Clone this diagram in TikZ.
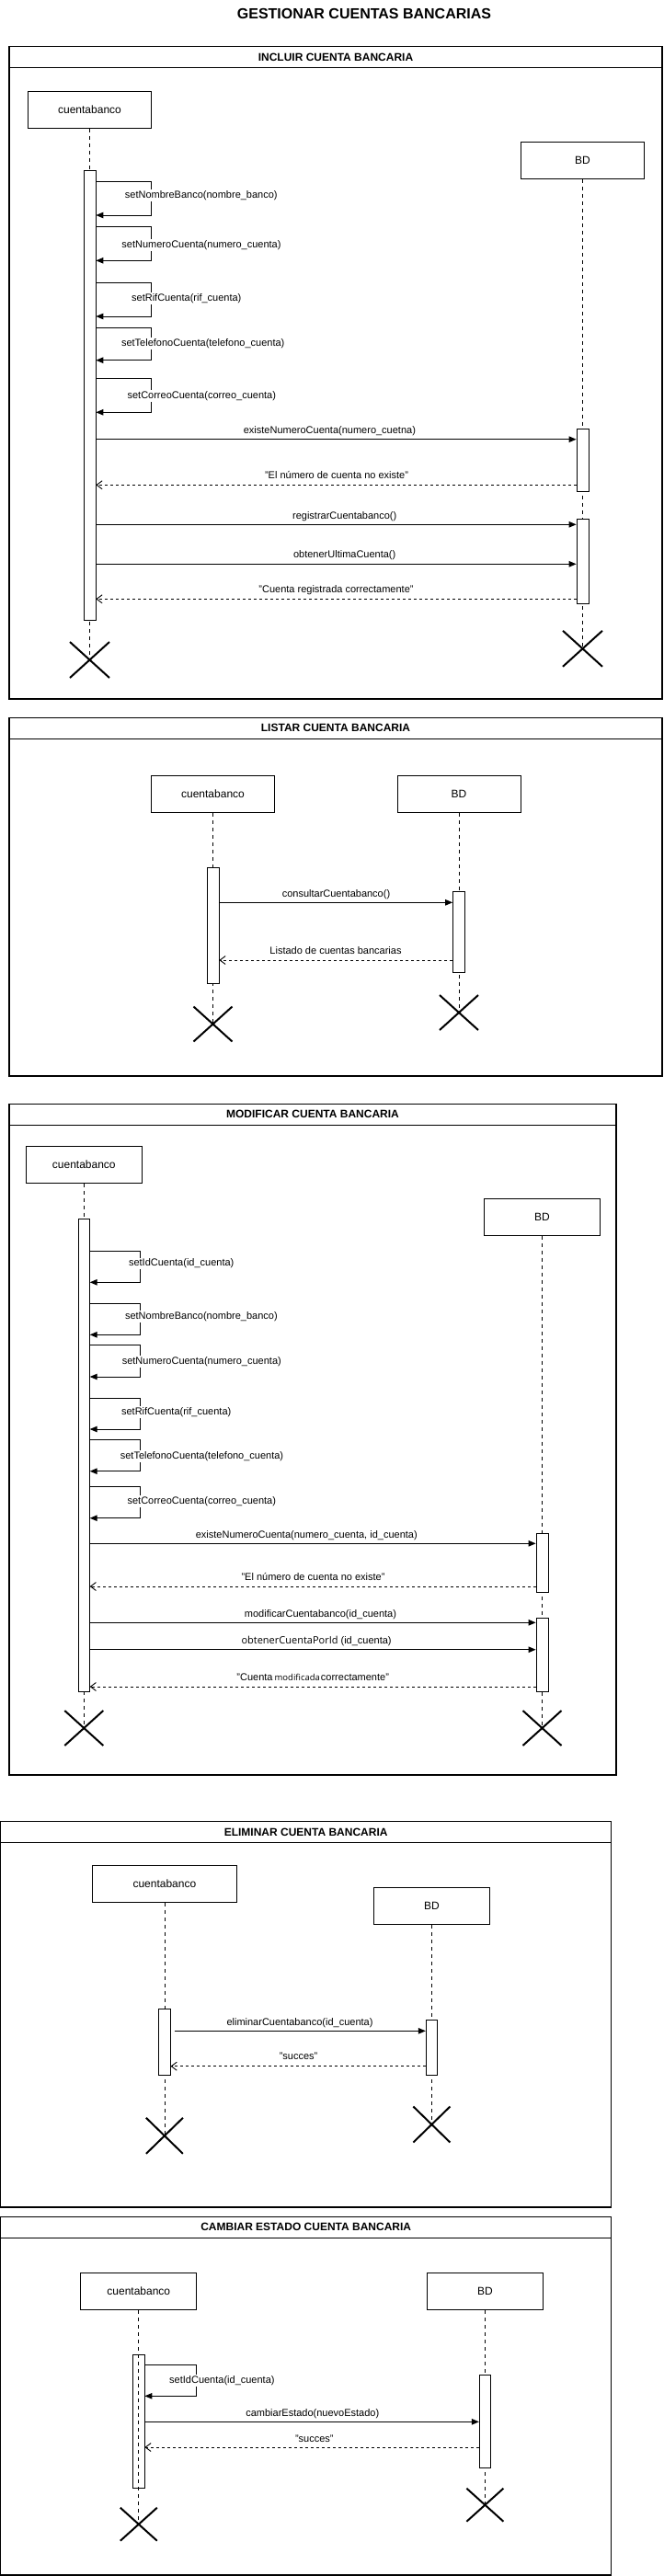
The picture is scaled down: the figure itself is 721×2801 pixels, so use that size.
\documentclass[tikz,border=0pt]{standalone}
\usepackage{fontspec}
\setmainfont{Liberation Sans}
\newfontfamily\altfont{Open Sans}
\usetikzlibrary{arrows.meta,shapes.misc}

\begin{document}
\begin{tikzpicture}
    [x=1pt,y=-1pt,every node/.style={inner sep=0pt},
     sdframe/.style={draw,line width=1.2pt},
     framehdr/.style={font=\bfseries\fontsize{12}{14}\selectfont},
     lifebox/.style={draw,line width=1pt,minimum width=134pt,minimum height=40pt,font=\fontsize{12}{14}\selectfont},
     lifeline/.style={line width=0.8pt,dash pattern=on 4pt off 4pt},
     actbar/.style={draw,fill=white,line width=0.8pt,minimum width=13pt},
     killx/.style={cross out,draw,line width=2pt,minimum width=40pt,minimum height=36pt},
     call/.style={line width=1pt,-{Triangle[length=8pt,width=6.5pt]}},
     reply/.style={line width=0.9pt,dash pattern=on 3pt off 3pt,-{Straight Barb[length=6pt,width=9pt]}},
     msglbl/.style={font=\fontsize{11}{13}\selectfont,text height=8pt,text depth=2.5pt},
     selflbl/.style={msglbl,fill=white,inner sep=1pt}]
    \useasboundingbox (0,0) rectangle (721,2801);
    \node[font=\bfseries\fontsize{16}{19}\selectfont] (title) at (396,15) {GESTIONAR CUENTAS BANCARIAS};

    % incluir
    \draw[sdframe] (10,50.7) rectangle (720,760);
    \draw[sdframe] (10,73.3) -- (720,73.3);
    \node[framehdr] (h1) at (365,62) {INCLUIR CUENTA BANCARIA};
    \node[lifebox] (cb1) at (97.5,119.3) {cuentabanco};
    \node[lifebox] (bd1) at (633.5,174.3) {BD};
    \node[killx,minimum width=41pt,minimum height=37pt] (xc1) at (97.5,717.5) {};
    \node[killx,minimum width=41pt,minimum height=37pt] (xb1) at (633.5,705.3) {};
    \foreach \from/\to in {cb1/xc1,bd1/xb1} \draw[lifeline] (\from) -- (\to.center);
    \node[actbar,minimum height=489.3pt] (ca1) at (97.5,429.65) {};
    \node[actbar,minimum height=67.3pt] (ba1) at (633.5,500.35) {};
    \node[actbar,minimum height=92pt] (ba2) at (633.5,610.3) {};

    \foreach \t/\b/\lx/\ly/\txt [count=\i] in
      {197.3/234/218.8/212.3/{setNombreBanco(nombre\_banco)},
       246.3/283.3/219/266.7/{setNumeroCuenta(numero\_cuenta)},
       307.3/344/202.8/324.3/{setRifCuenta(rif\_cuenta)},
       356/391.7/220.7/373.3/{setTelefonoCuenta(telefono\_cuenta)},
       411.3/448.3/219.3/430.7/{setCorreoCuenta(correo\_cuenta)}}
    {
      \draw[call] (ca1.east |- 0,\t) -| (164,\b) -- (ca1.east |- 0,\b);
      \node[selflbl] (sa\i) at (\lx,\ly) {\txt};
    }

    \foreach \from/\to/\y in {ca1.east/ba1.west/477.7,ca1.east/ba2.west/570.3,ca1.east/ba2.west/613.3}
    \draw[call] (\from |- 0,\y) -- (\to |- 0,\y);
    \foreach \from/\to/\y in {ba1.west/ca1.east/527.3,ba2.west/ca1.east/651.3}
    \draw[reply] (\from |- 0,\y) -- (\to |- 0,\y);
    \node[msglbl] (ma1) at (358.4,468.3) {existeNumeroCuenta(numero\_cuetna)};
    \node[msglbl] (ma2) at (366,518) {"El número de cuenta no existe"};
    \node[msglbl] (ma3) at (374.7,561.7) {registrarCuentabanco()};
    \node[msglbl] (ma4) at (374.7,604) {obtenerUltimaCuenta()};
    \node[msglbl] (ma5) at (365.5,642) {"Cuenta registrada correctamente"};

    % listar
    \draw[sdframe] (10,780.7) rectangle (720,1170);
    \draw[sdframe] (10,803.3) -- (720,803.3);
    \node[framehdr] (h2) at (365,791.7) {LISTAR CUENTA BANCARIA};
    \node[lifebox] (cb2) at (231.5,863.3) {cuentabanco};
    \node[lifebox] (bd2) at (499,863.3) {BD};
    \node[killx] (xc2) at (231.5,1113.5) {};
    \node[killx] (xb2) at (499,1101) {};
    \foreach \from/\to in {cb2/xc2,bd2/xb2} \draw[lifeline] (\from) -- (\to.center);
    \node[actbar,minimum height=126pt] (ca2) at (231.5,1006.7) {};
    \node[actbar,minimum height=88pt] (ba3) at (499,1013) {};
    \draw[call] (ca2.east |- 0,981.3) -- (ba3.west |- 0,981.3);
    \draw[reply] (ba3.west |- 0,1044) -- (ca2.east |- 0,1044);
    \node[msglbl] (mb1) at (365.5,972.3) {consultarCuentabanco()};
    \node[msglbl] (mb2) at (365,1035) {Listado de cuentas bancarias};

    % modificar
    \draw[sdframe] (10,1200.7) rectangle (670,1930);
    \draw[sdframe] (10,1223.3) -- (670,1223.3);
    \node[framehdr] (h3) at (340,1211.7) {MODIFICAR CUENTA BANCARIA};
    \node[lifebox,minimum width=125.5pt] (cb3) at (91.3,1266) {cuentabanco};
    \node[lifebox,minimum width=125.5pt] (bd3) at (589.5,1323) {BD};
    \node[killx] (xc3) at (91.3,1879) {};
    \node[killx] (xb3) at (589.5,1879) {};
    \foreach \from/\to in {cb3/xc3,bd3/xb3} \draw[lifeline] (\from) -- (\to.center);
    \node[actbar,minimum width=12pt,minimum height=513.3pt] (ca3) at (91.3,1582.35) {};
    \node[actbar,minimum height=63.3pt] (ba4) at (589.5,1699.35) {};
    \node[actbar,minimum height=79.7pt] (ba5) at (589.5,1799.15) {};

    \foreach \t/\b/\lx/\ly/\txt [count=\i] in
      {1360.3/1394.3/197.2/1374/{setIdCuenta(id\_cuenta)},
       1417/1451.3/218.9/1431.3/{setNombreBanco(nombre\_banco)},
       1462.7/1497/219.3/1480.3/{setNumeroCuenta(numero\_cuenta)},
       1520/1554/191.7/1535.3/{setRifCuenta(rif\_cuenta)},
       1565.3/1599.7/219.5/1583.3/{setTelefonoCuenta(telefono\_cuenta)},
       1616.3/1650.7/219.3/1632.3/{setCorreoCuenta(correo\_cuenta)}}
    {
      \draw[call] (ca3.east |- 0,\t) -| (152.6,\b) -- (ca3.east |- 0,\b);
      \node[selflbl] (sc\i) at (\lx,\ly) {\txt};
    }

    \foreach \from/\to/\y in {ca3.east/ba4.west/1678.3,ca3.east/ba5.west/1764.3,ca3.east/ba5.west/1793.7}
    \draw[call] (\from |- 0,\y) -- (\to |- 0,\y);
    \foreach \from/\to/\y in {ba4.west/ca3.east/1725,ba5.west/ca3.east/1834}
    \draw[reply] (\from |- 0,\y) -- (\to |- 0,\y);
    \node[msglbl] (mc1) at (333.3,1669.3) {existeNumeroCuenta(numero\_cuenta, id\_cuenta)};
    \node[msglbl] (mc2) at (340.5,1715.7) {"El número de cuenta no existe"};
    \node[msglbl] (mc3) at (348.5,1755.3) {modificarCuentabanco(id\_cuenta)};
    \node[msglbl] (mc4) at (344.1,1785) {{\altfont\fontsize{11}{13}\selectfont obtenerCuentaPorId} (id\_cuenta)};
    \node[msglbl] (mc5) at (340.2,1825) {"Cuenta\kern2pt{\altfont\fontsize{9.5}{11}\selectfont modificada}\kern1pt correctamente"};

    % eliminar
    \draw[sdframe] (0.6,1980.7) rectangle (664.8,2400);
    \draw[sdframe] (0.6,2003.3) -- (664.8,2003.3);
    \node[framehdr] (h4) at (332.7,1992) {ELIMINAR CUENTA BANCARIA};
    \node[lifebox,minimum width=157pt] (cb4) at (178.9,2048.3) {cuentabanco};
    \node[lifebox,minimum width=126pt] (bd4) at (469.4,2072.3) {BD};
    \node[killx,minimum width=38pt,minimum height=37pt] (xc4) at (178.9,2322.3) {};
    \node[killx,minimum width=38pt,minimum height=37pt] (xb4) at (469.4,2310) {};
    \foreach \from/\to in {cb4/xc4,bd4/xb4} \draw[lifeline] (\from) -- (\to.center);
    \node[actbar,minimum width=12.4pt,minimum height=71.7pt] (ca4) at (178.9,2220.15) {};
    \node[actbar,minimum width=12.4pt,minimum height=59.7pt] (ba6) at (469.4,2226.15) {};
    \draw[call,shorten <=4pt] (ca4.east |- 0,2208.3) -- (ba6.west |- 0,2208.3);
    \draw[reply] (ba6.west |- 0,2246.7) -- (ca4.east |- 0,2246.7);
    \node[msglbl] (md1) at (326,2199.3) {eliminarCuentabanco(id\_cuenta)};
    \node[msglbl] (md2) at (324.6,2237) {"succes"};

    % cambiar estado
    \draw[sdframe] (0.6,2410.7) rectangle (664.8,2800);
    \draw[sdframe] (0.6,2433.3) -- (664.8,2433.3);
    \node[framehdr] (h5) at (332.7,2421.7) {CAMBIAR ESTADO CUENTA BANCARIA};
    \node[lifebox,minimum width=126pt] (cb5) at (150.8,2491.5) {cuentabanco};
    \node[lifebox,minimum width=126pt] (bd5) at (527.4,2491.5) {BD};
    \node[killx,minimum width=38pt,minimum height=34pt] (xc5) at (150.8,2744.7) {};
    \node[killx,minimum width=38pt,minimum height=34pt] (xb5) at (527.4,2723.7) {};
    \node[actbar,fill=none,minimum width=12.4pt,minimum height=144.6pt] (ca5) at (150.8,2633) {};
    \foreach \from/\to in {cb5/xc5,bd5/xb5} \draw[lifeline] (\from) -- (\to.center);
    \node[actbar,minimum width=12.4pt,minimum height=100.6pt] (ba7) at (527.4,2633) {};
    \draw[call] (ca5.east |- 0,2571.7) -| (213.8,2605.3) -- (ca5.east |- 0,2605.3);
    \node[selflbl] (se1) at (241.4,2588.3) {setIdCuenta(id\_cuenta)};
    \draw[call] (ca5.east |- 0,2633.3) -- (ba7.west |- 0,2633.3);
    \draw[reply] (ba7.west |- 0,2661) -- (ca5.east |- 0,2661);
    \node[msglbl] (me1) at (339.8,2624.3) {cambiarEstado(nuevoEstado)};
    \node[msglbl] (me2) at (341.8,2652.3) {"succes"};
\end{tikzpicture}
\end{document}
